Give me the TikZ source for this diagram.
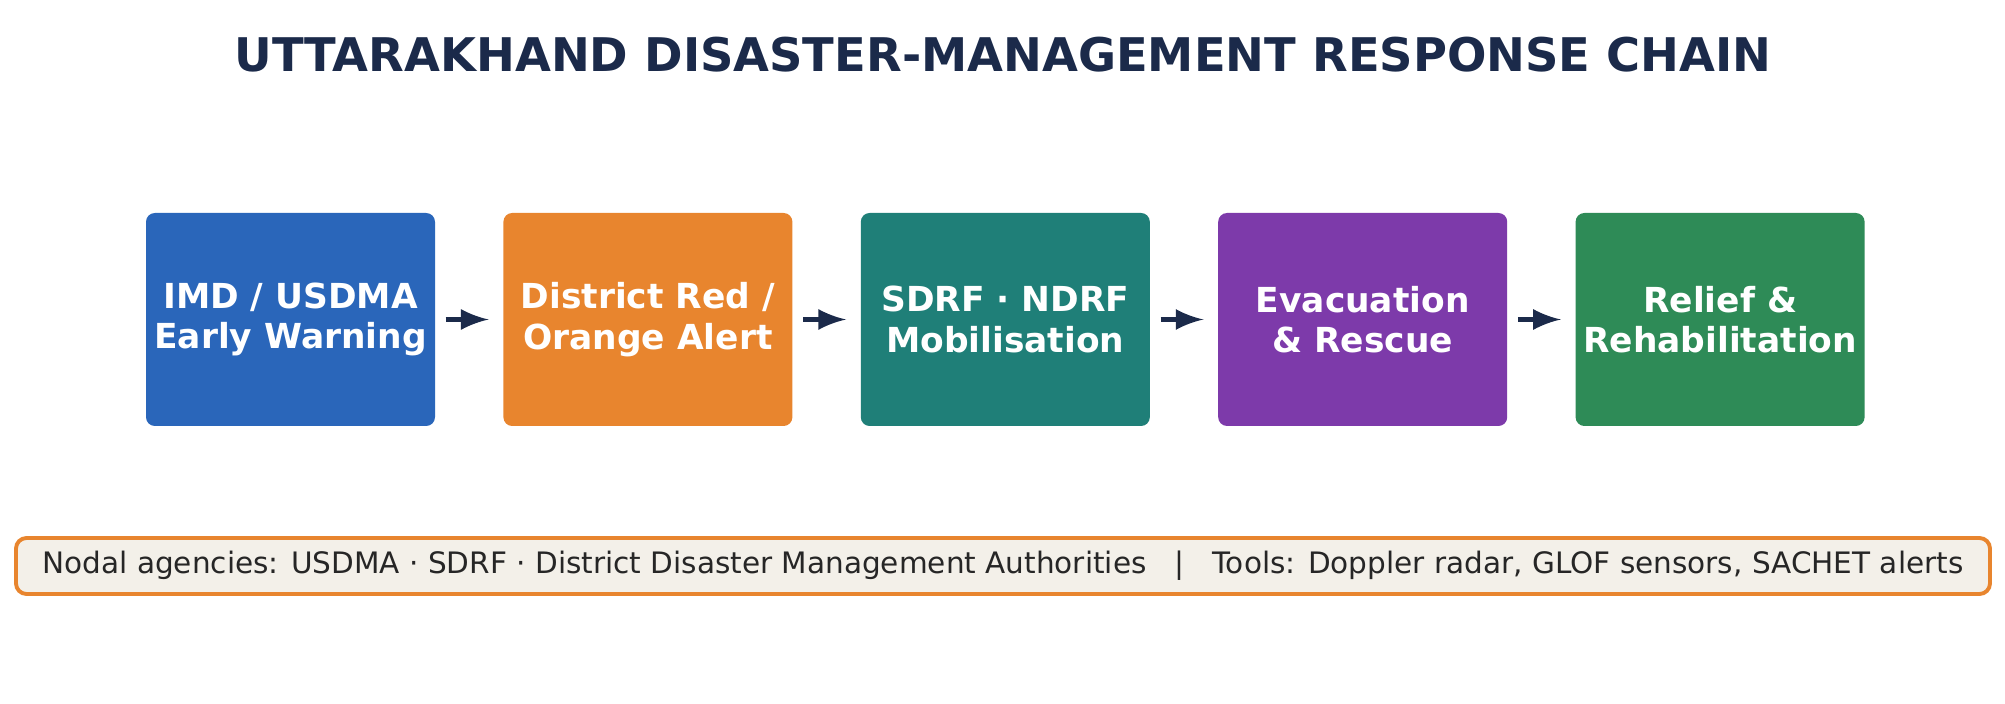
\documentclass[tikz,border=0pt]{standalone}
\usepackage{fontspec}
\setmainfont{DejaVu Sans}
\usetikzlibrary{positioning}
\definecolor{navy}{HTML}{1B2A4A}
\definecolor{cblue}{HTML}{2A66BA}
\definecolor{corange}{HTML}{E8852E}
\definecolor{cteal}{HTML}{1F7F78}
\definecolor{cpurple}{HTML}{7D3AAA}
\definecolor{cgreen}{HTML}{2E8B57}
\definecolor{cream}{HTML}{F3F0E9}
\begin{document}
\begin{tikzpicture}
    [
    stage/.style={rectangle,rounded corners=2.5pt,minimum width=2.89cm,minimum height=2.13cm,
      inner sep=0pt,align=center,text=white,font=\fontsize{9.8}{11.5}\selectfont\bfseries},
    link/.style={-latex,line width=1.7pt,draw=navy,shorten <=0.1cm,shorten >=0.14cm},
    node distance=0.67cm
    ]
    \useasboundingbox (0,0) rectangle (20.05,7.04);
    \node (title) at (10.03,6.49) [text=navy,font=\fontsize{13.2}{15}\selectfont\bfseries]
      {UTTARAKHAND DISASTER-MANAGEMENT RESPONSE CHAIN};
    \node (imd) at (2.905,3.845) [stage,fill=cblue] {IMD / USDMA\\Early Warning};
    \node (alert) [stage,fill=corange,right=of imd] {District Red /\\Orange Alert};
    \node (sdrf) [stage,fill=cteal,right=of alert] {SDRF · NDRF\\Mobilisation};
    \node (evac) [stage,fill=cpurple,right=of sdrf] {Evacuation\\\& Rescue};
    \node (relief) [stage,fill=cgreen,right=of evac] {Relief \&\\Rehabilitation};
    \draw [link] (imd) to (alert);
    \draw [link] (alert) to (sdrf);
    \draw [link] (sdrf) to (evac);
    \draw [link] (evac) to (relief);
    \node (note) at (10.03,1.38) [rectangle,rounded corners=3pt,draw=corange,line width=1.1pt,
      fill=cream,minimum width=19.74cm,minimum height=0.56cm,inner sep=0pt,
      text={black!85},font=\fontsize{8.4}{10}\selectfont]
      {Nodal agencies: USDMA · SDRF · District Disaster Management Authorities \ \ | \ \ Tools: Doppler radar, GLOF sensors, SACHET alerts};
  \end{tikzpicture}
\end{document}
